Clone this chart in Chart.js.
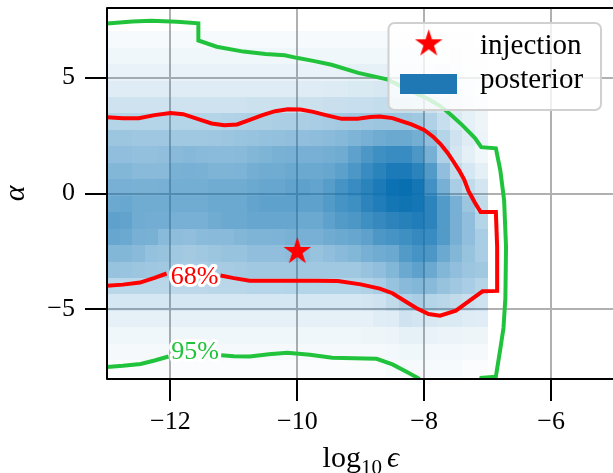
<!DOCTYPE html>
<html lang="en">
<head>
  <meta charset="UTF-8" />
  <title>Posterior log10 epsilon vs alpha</title>
  <script src="https://cdn.jsdelivr.net/npm/chart.js"></script>
  <style>
    html, body {
      margin: 0;
      padding: 0;
      background: #fff;
      overflow: hidden;
    }
    #wrap {
      width: 620px;
      height: 473px;
    }
    canvas {
      display: block;
    }
  </style>
</head>
<body>
  <div id="wrap"><canvas id="grafico" width="620" height="473"></canvas></div>

  <script>
    // axis ticks
    const xTicks = [-12, -10, -8, -6];
    const yTicks = [-5, 0, 5];

    // histogram bins (log10 eps: 30 bins, alpha: 21 bins)
    const epsMin = -13, epsStep = 0.2;
    const alphaMin = -7.9, alphaStep = 0.7095;

    // posterior density in %, rows from top (alpha ~ 7) to bottom (alpha ~ -7.9)
    const density = [
      [3, 3, 3, 3, 3, 3, 3, 3, 3, 3, 3, 3, 3, 3, 3, 3, 3, 3, 3, 3, 3, 3, 3, 3, 3, 3, 2, 2, 2, 1],
      [6, 6, 6, 6, 6, 6, 6, 6, 6, 6, 6, 6, 6, 6, 6, 6, 6, 6, 6, 6, 6, 6, 6, 6, 6, 5, 5, 4, 3, 2],
      [9, 9, 9, 9, 9, 9, 9, 9, 9, 9, 9, 9, 9, 9, 9, 9, 9, 9, 9, 10, 10, 10, 10, 10, 10, 9, 8, 6, 5, 3],
      [13, 13, 13, 13, 13, 13, 13, 13, 13, 13, 13, 13, 13, 13, 13, 13, 13, 14, 14, 15, 15, 16, 16, 16, 15, 14, 12, 10, 7, 5],
      [20, 20, 20, 20, 20, 20, 20, 20, 20, 20, 20, 21, 21, 21, 21, 21, 21, 22, 22, 23, 23, 24, 24, 24, 23, 21, 17, 13, 10, 7],
      [30, 30, 30, 30, 30, 30, 30, 30, 30, 31, 32, 33, 33, 34, 34, 34, 35, 36, 37, 38, 39, 40, 40, 40, 38, 32, 23, 15, 10, 7],
      [40, 40, 39, 39, 39, 38, 38, 38, 39, 40, 41, 42, 43, 44, 45, 45, 46, 47, 49, 52, 55, 58, 60, 60, 56, 45, 30, 20, 13, 8],
      [45, 45, 44, 44, 45, 48, 49, 48, 47, 47, 48, 50, 52, 54, 55, 55, 55, 56, 58, 65, 72, 78, 80, 80, 72, 55, 32, 18, 11, 6],
      [50, 50, 48, 48, 48, 54, 55, 54, 52, 52, 53, 56, 58, 58, 60, 60, 60, 62, 66, 72, 80, 86, 92, 92, 86, 70, 45, 25, 17, 11],
      [55, 55, 54, 54, 55, 56, 56, 56, 58, 58, 58, 60, 62, 62, 64, 65, 63, 68, 75, 80, 86, 92, 98, 100, 95, 76, 55, 35, 25, 18],
      [60, 61, 58, 58, 58, 58, 58, 58, 60, 60, 60, 63, 65, 65, 65, 65, 65, 70, 75, 78, 85, 90, 95, 97, 95, 85, 70, 55, 40, 25],
      [65, 64, 58, 57, 57, 55, 55, 55, 58, 60, 60, 62, 62, 62, 62, 60, 60, 65, 70, 72, 78, 82, 85, 88, 90, 85, 70, 55, 45, 30],
      [62, 60, 55, 54, 48, 46, 45, 47, 48, 48, 50, 52, 52, 53, 54, 55, 55, 58, 60, 62, 65, 72, 75, 78, 82, 80, 70, 55, 45, 35],
      [50, 50, 48, 43, 42, 38, 37, 38, 40, 42, 42, 45, 45, 45, 46, 45, 42, 45, 48, 50, 55, 58, 60, 70, 75, 72, 60, 50, 42, 35],
      [42, 41, 40, 39, 38, 36, 35, 35, 36, 36, 37, 38, 38, 38, 38, 38, 38, 38, 38, 38, 42, 45, 50, 60, 65, 60, 50, 45, 40, 38],
      [28, 28, 28, 28, 28, 27, 27, 27, 28, 28, 28, 29, 29, 29, 30, 30, 30, 30, 30, 30, 32, 35, 42, 48, 50, 48, 42, 38, 35, 30],
      [17, 17, 17, 17, 17, 17, 17, 17, 17, 17, 17, 17, 17, 17, 17, 17, 17, 17, 17, 17, 18, 20, 25, 32, 35, 30, 28, 25, 22, 20],
      [10, 10, 10, 10, 10, 10, 10, 10, 10, 10, 10, 10, 10, 10, 10, 10, 10, 10, 10, 10, 10, 12, 13, 20, 18, 16, 15, 15, 13, 12],
      [6, 6, 6, 6, 6, 6, 6, 6, 6, 6, 6, 6, 6, 6, 6, 6, 6, 6, 6, 6, 7, 7, 8, 10, 10, 9, 8, 8, 7, 7],
      [4, 4, 4, 4, 4, 4, 4, 4, 4, 4, 4, 4, 4, 4, 4, 4, 4, 4, 4, 4, 4, 4, 5, 6, 6, 5, 5, 5, 4, 4],
      [2, 2, 2, 2, 2, 2, 2, 2, 2, 2, 2, 2, 2, 2, 2, 2, 2, 2, 2, 2, 2, 2, 3, 3, 3, 3, 3, 3, 2, 2]
    ];

    // injected value
    const injection = [[-10, -2.5]];

    // 68% contour (split where the label sits)
    const red68a = [
      [-13.0, 3.29], [-12.75, 3.25], [-12.5, 3.25], [-12.25, 3.38], [-12.0, 3.47], [-11.8, 3.42],
      [-11.55, 3.2], [-11.35, 3.02], [-11.15, 2.94], [-10.95, 2.98], [-10.75, 3.18], [-10.55, 3.38],
      [-10.35, 3.55], [-10.15, 3.63], [-9.95, 3.62], [-9.75, 3.52], [-9.55, 3.38], [-9.3, 3.22],
      [-9.05, 3.22], [-8.85, 3.3], [-8.7, 3.32], [-8.5, 3.25], [-8.37, 3.13], [-8.2, 2.98],
      [-8.0, 2.74], [-7.86, 2.45], [-7.74, 2.12], [-7.63, 1.75], [-7.54, 1.38], [-7.45, 1.0],
      [-7.37, 0.6], [-7.3, 0.1], [-7.2, -0.4], [-7.11, -0.8], [-6.87, -0.8], [-6.85, -2.3],
      [-6.85, -4.2], [-7.08, -4.22], [-7.3, -4.65], [-7.5, -5.05], [-7.75, -5.27], [-7.93, -5.2],
      [-8.12, -4.95], [-8.28, -4.68], [-8.5, -4.3], [-8.7, -4.1], [-9.0, -3.92], [-9.36, -3.77],
      [-9.7, -3.76], [-10.0, -3.76], [-10.4, -3.76], [-10.75, -3.76], [-11.0, -3.65], [-11.21, -3.54]
    ];
    const red68b = [[-12.06, -3.45], [-12.25, -3.64], [-12.48, -3.84], [-12.75, -3.93], [-13.0, -3.98]];

    // 95% contour
    const green95a = [
      [-13.0, 7.33], [-12.6, 7.42], [-12.3, 7.45], [-11.9, 7.41], [-11.56, 7.34], [-11.56, 6.6],
      [-11.27, 6.33], [-10.85, 6.12], [-10.5, 6.02], [-10.2, 5.96], [-9.99, 5.84], [-9.75, 5.72],
      [-9.46, 5.55], [-9.04, 5.2], [-8.57, 4.91], [-8.26, 4.48], [-7.95, 4.1], [-7.74, 3.76],
      [-7.58, 3.4], [-7.4, 2.95], [-7.2, 2.39], [-7.1, 2.0], [-6.87, 1.95], [-6.8, 1.0],
      [-6.74, -0.3], [-6.71, -2.3], [-6.72, -4.5], [-6.75, -5.8], [-6.8, -6.7], [-6.87, -7.9],
      [-7.1, -7.95], [-7.15, -8.5], [-8.02, -8.5], [-8.09, -7.97], [-8.25, -7.73], [-8.5, -7.37],
      [-8.75, -7.13], [-9.1, -7.1], [-9.45, -7.08], [-9.8, -6.95], [-10.16, -6.87], [-10.45, -6.93],
      [-10.75, -7.03], [-11.0, -7.02], [-11.2, -6.98]
    ];
    const green95b = [[-12.03, -7.03], [-12.25, -7.2], [-12.47, -7.35], [-12.75, -7.43], [-13.0, -7.48]];

    // inline contour labels [text, x, y]
    const contourLabels = [['68%', -11.62, -3.6], ['95%', -11.61, -6.85]];
    const legendLabels = ['injection', 'posterior'];

    const SERIF = "'Liberation Serif', 'DejaVu Serif', serif";
    const RED = '#ff0000';
    const GREEN = '#22c33c';
    const BLUE = '#1f77b4';

    const pts = arr => arr.map(p => ({ x: p[0], y: p[1] }));
    const fmt = v => (v < 0 ? '\u2212' + Math.abs(v) : String(v));

    function makeStar(R, color) {
      const c = document.createElement('canvas');
      const s = Math.ceil(R * 2 + 4);
      c.width = s;
      c.height = s;
      const g = c.getContext('2d');
      g.translate(s / 2, s / 2);
      g.beginPath();
      for (let k = 0; k < 10; k++) {
        const r = k % 2 === 0 ? R : R * 0.382;
        const a = -Math.PI / 2 + k * Math.PI / 5;
        g.lineTo(r * Math.cos(a), r * Math.sin(a));
      }
      g.closePath();
      g.fillStyle = color;
      g.fill();
      return c;
    }
    const star = makeStar(14.5, RED);

    // chart.js reserves room for edge labels; we place the plot box ourselves
    const noPad = s => {
      s.paddingTop = 0;
      s.paddingBottom = 0;
      s.paddingLeft = 0;
      s.paddingRight = 0;
    };

    // 2d histogram under the lines, over the grid
    const heatmap = {
      id: 'heatmap',
      beforeDatasetsDraw(chart) {
        const { ctx, chartArea: a, scales: { x, y } } = chart;
        ctx.save();
        ctx.beginPath();
        ctx.rect(a.left, a.top, a.width, a.height);
        ctx.clip();
        density.forEach((row, r) => {
          const j = density.length - 1 - r;
          const y0 = Math.round(y.getPixelForValue(alphaMin + (j + 1) * alphaStep));
          const y1 = Math.round(y.getPixelForValue(alphaMin + j * alphaStep));
          row.forEach((v, i) => {
            const x0 = Math.round(x.getPixelForValue(epsMin + i * epsStep));
            const x1 = Math.round(x.getPixelForValue(epsMin + (i + 1) * epsStep));
            ctx.fillStyle = `rgba(8,111,177,${v / 100})`;
            ctx.fillRect(x0, y0, x1 - x0, y1 - y0);
          });
        });
        ctx.restore();
      },
      afterDatasetsDraw(chart) {
        const { ctx, chartArea: a, scales: { x, y } } = chart;
        ctx.save();
        // contour labels with white halo
        ctx.font = `26px ${SERIF}`;
        ctx.textAlign = 'center';
        ctx.textBaseline = 'middle';
        ctx.lineJoin = 'round';
        contourLabels.forEach(([t, vx, vy], k) => {
          const px = x.getPixelForValue(vx), py = y.getPixelForValue(vy);
          ctx.strokeStyle = '#fff';
          ctx.lineWidth = 6;
          ctx.strokeText(t, px, py);
          ctx.fillStyle = k === 0 ? RED : GREEN;
          ctx.fillText(t, px, py);
        });
        // frame
        ctx.strokeStyle = '#000';
        ctx.lineWidth = 2;
        ctx.strokeRect(a.left, a.top, a.right - a.left, a.bottom - a.top);
        ctx.restore();
      },
      afterDraw(chart) {
        const { ctx, chartArea: a } = chart;
        ctx.save();
        // legend
        const bx = 388.5, by = 23, bw = 212.5, bh = 87;
        ctx.beginPath();
        ctx.roundRect(bx, by, bw, bh, 6);
        ctx.fillStyle = 'rgba(255,255,255,0.8)';
        ctx.fill();
        ctx.strokeStyle = '#d0d0d0';
        ctx.lineWidth = 2;
        ctx.stroke();
        ctx.drawImage(star, 428.7 - star.width / 2, 43.8 - star.height / 2);
        ctx.fillStyle = BLUE;
        ctx.fillRect(400, 74, 57, 20);
        ctx.fillStyle = '#000';
        ctx.font = `29px ${SERIF}`;
        ctx.textAlign = 'left';
        ctx.textBaseline = 'alphabetic';
        ctx.fillText(legendLabels[0], 480, 54);
        ctx.fillText(legendLabels[1], 480, 87.5);

        // x axis title: log10 eps
        const base = 467;
        ctx.font = `30px ${SERIF}`;
        const w1 = ctx.measureText('log').width;
        ctx.font = `21px ${SERIF}`;
        const w2 = ctx.measureText('10').width;
        ctx.font = `italic 30px ${SERIF}`;
        const w3 = ctx.measureText('\u03f5').width;
        const gap = 5;
        let cx = (a.left + a.right) / 2 - (w1 + w2 + gap + w3) / 2;
        ctx.font = `30px ${SERIF}`;
        ctx.fillText('log', cx, base);
        cx += w1;
        ctx.font = `21px ${SERIF}`;
        ctx.fillText('10', cx, base + 7);
        cx += w2 + gap;
        ctx.font = `italic 30px ${SERIF}`;
        ctx.fillText('\u03f5', cx, base);
        ctx.restore();
      }
    };

    const ctx = document.getElementById('grafico').getContext('2d');
    const lineStyle = color => ({
      showLine: true,
      borderColor: color,
      backgroundColor: color,
      borderWidth: 4,
      pointRadius: 0,
      tension: 0,
      clip: 0
    });

    const grafico = new Chart(ctx, {
      type: 'scatter',
      data: {
        datasets: [
          {
            label: legendLabels[0],
            data: pts(injection),
            pointStyle: star,
            pointRadius: 15,
            showLine: false
          },
          { label: '68%', data: pts(red68a), ...lineStyle(RED) },
          { label: '68%', data: pts(red68b), ...lineStyle(RED) },
          { label: '95%', data: pts(green95a), ...lineStyle(GREEN) },
          { label: '95%', data: pts(green95b), ...lineStyle(GREEN) }
        ]
      },
      options: {
        responsive: false,
        animation: false,
        devicePixelRatio: 1,
        layout: { autoPadding: false, padding: { top: 8, right: 5.5, left: 0, bottom: 0 } },
        plugins: {
          legend: { display: false },
          tooltip: { enabled: false }
        },
        scales: {
          x: {
            type: 'linear',
            min: -13,
            max: -5,
            afterBuildTicks: s => { s.ticks = xTicks.map(v => ({ value: v })); },
            afterFit: s => { s.height = 94; noPad(s); },
            border: { display: false },
            grid: { color: '#b0b0b0', lineWidth: 2, tickColor: '#000', tickWidth: 2, tickLength: 22 },
            ticks: {
              color: '#000',
              font: { family: SERIF, size: 26 },
              padding: 6,
              maxRotation: 0,
              autoSkip: false,
              callback: v => fmt(v)
            }
          },
          y: {
            type: 'linear',
            min: -8,
            max: 8,
            afterBuildTicks: s => { s.ticks = yTicks.map(v => ({ value: v })); },
            afterFit: s => { s.width = 107; noPad(s); },
            border: { display: false },
            grid: { color: '#b0b0b0', lineWidth: 2, tickColor: '#000', tickWidth: 2, tickLength: 22 },
            ticks: {
              color: '#000',
              font: { family: SERIF, size: 26 },
              padding: 10,
              autoSkip: false,
              callback: v => fmt(v)
            },
            title: {
              display: true,
              text: '\u03b1',
              color: '#000',
              font: { family: SERIF, size: 30, style: 'italic', lineHeight: 1.1 },
              padding: { top: 0, bottom: 0 }
            }
          }
        }
      },
      plugins: [heatmap]
    });
  </script>
</body>
</html>
